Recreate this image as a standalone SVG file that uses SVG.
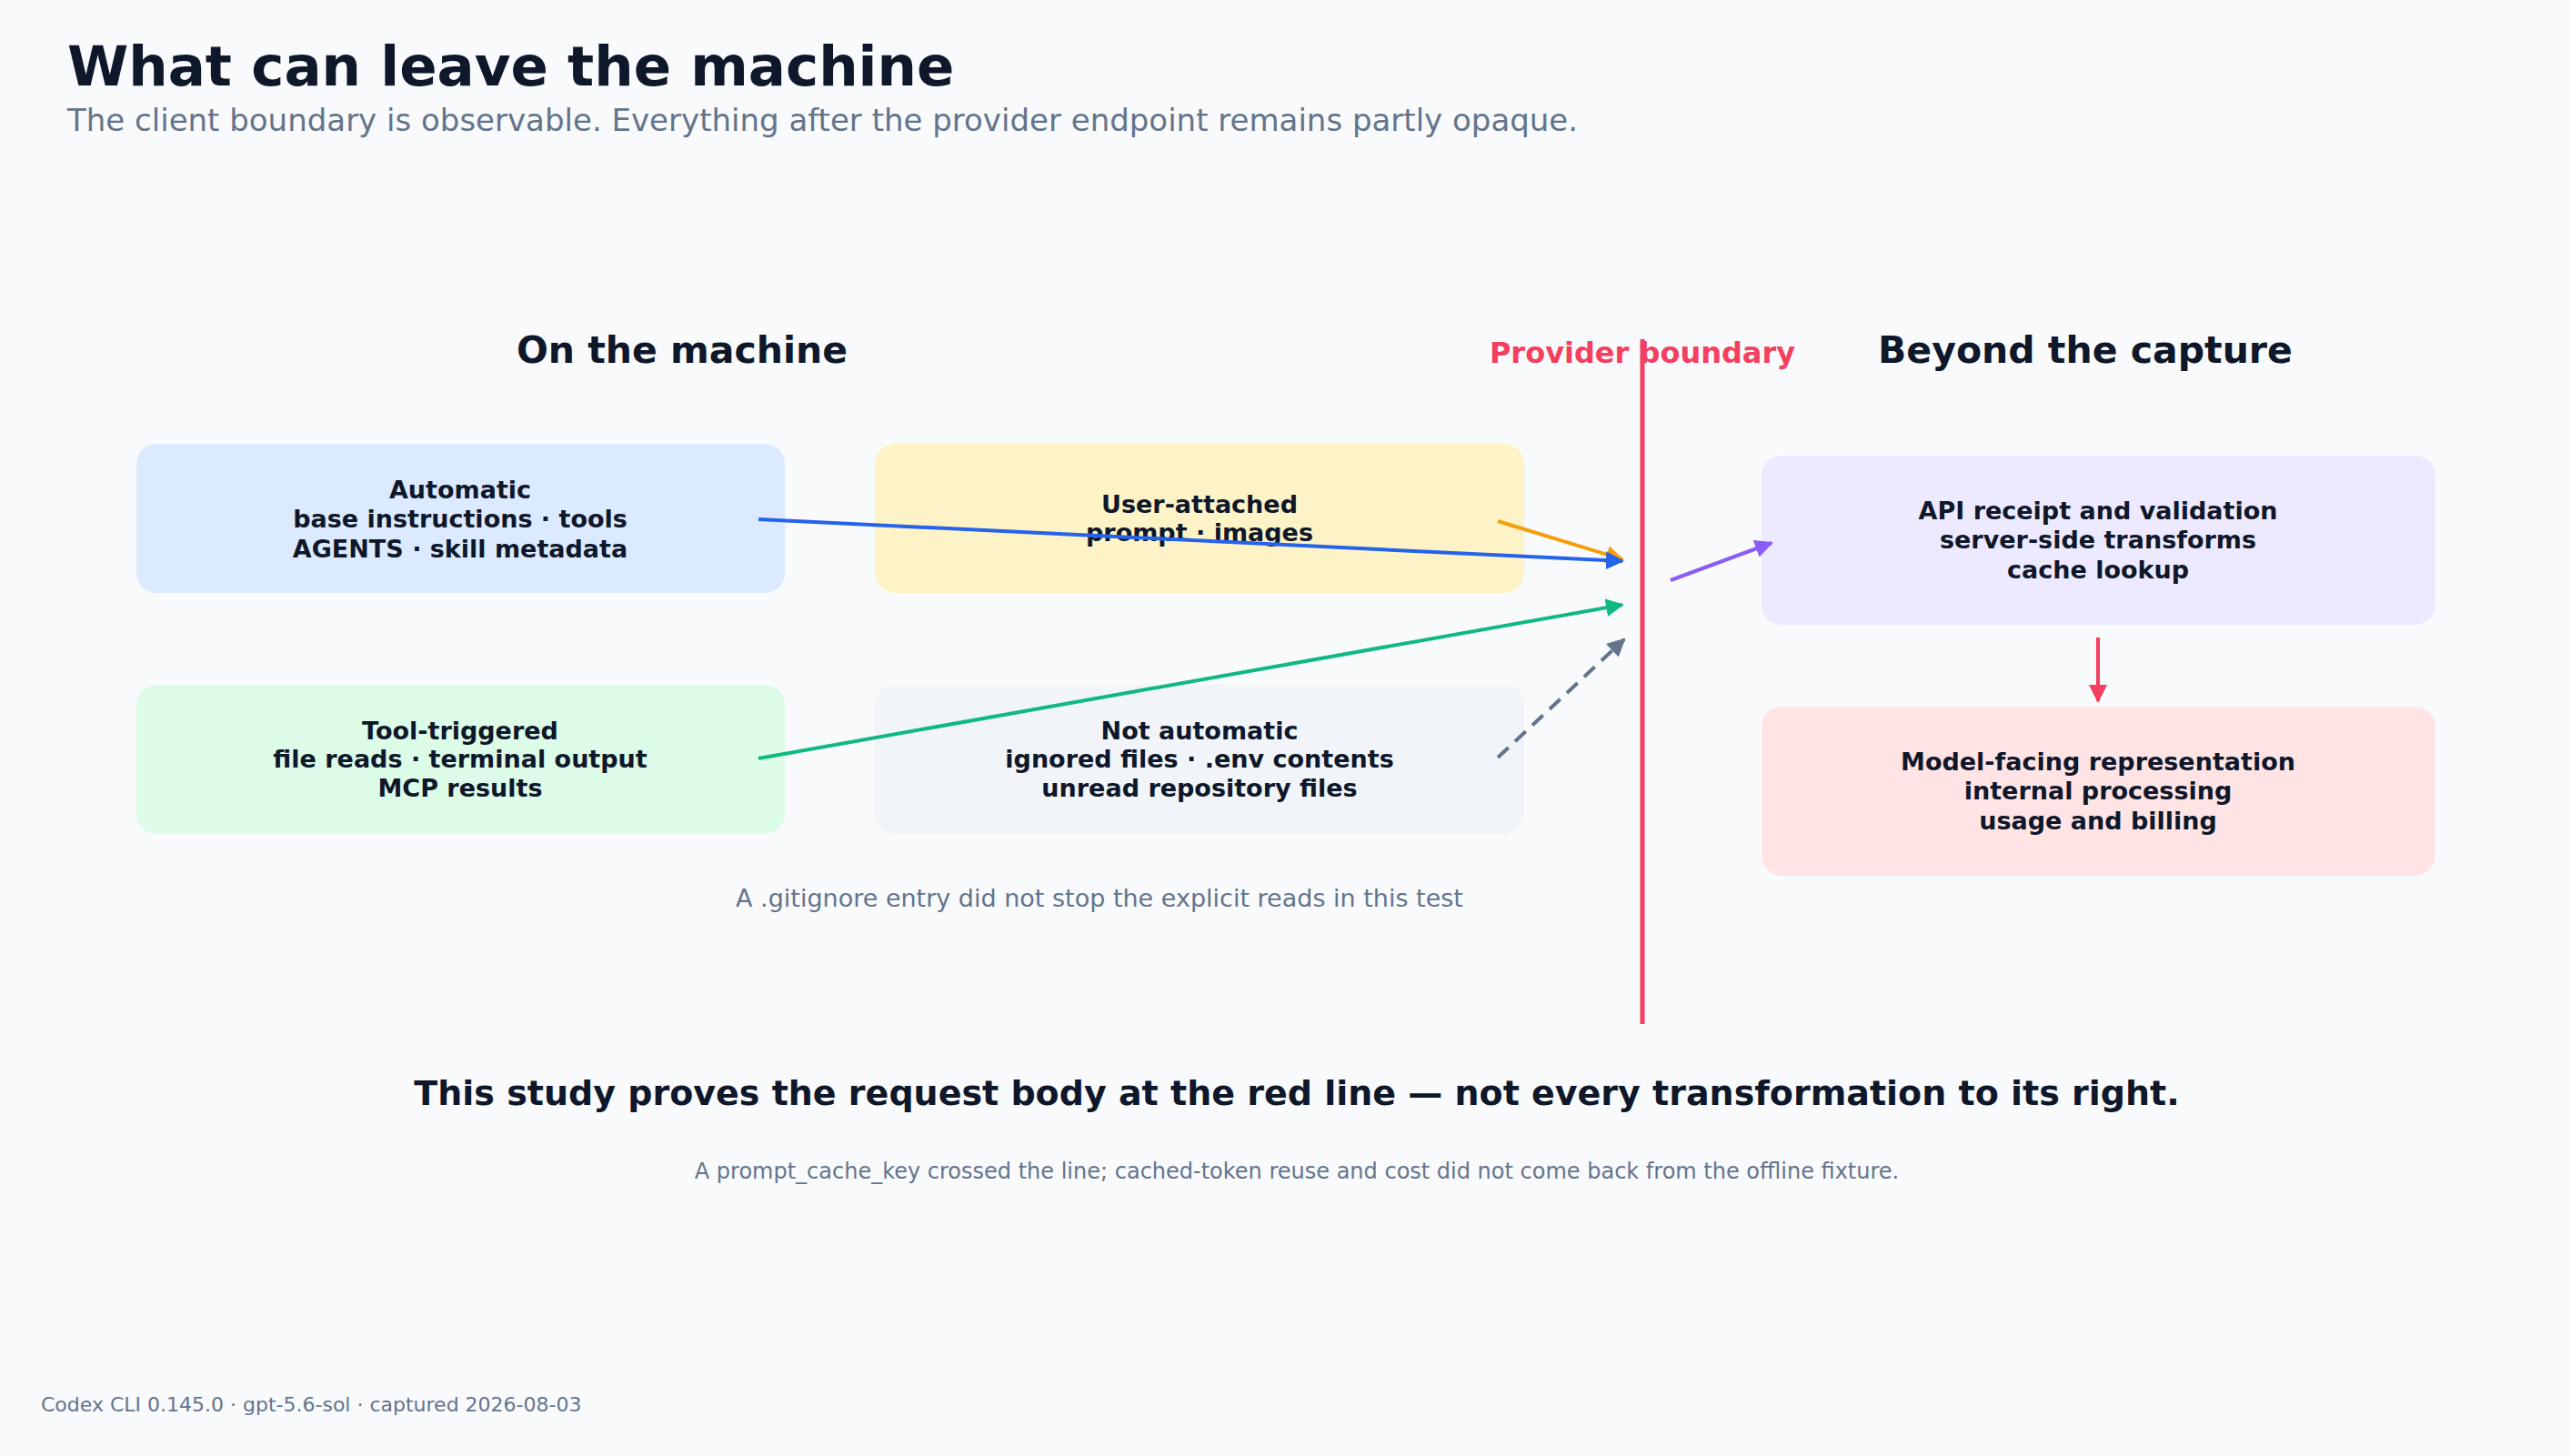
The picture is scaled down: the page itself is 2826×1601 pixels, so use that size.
<svg xmlns="http://www.w3.org/2000/svg" width="2826" height="1601" viewBox="0 0 2826 1601">
<style>
text{font-family:"DejaVu Sans","Noto Sans",sans-serif}
.h{font-size:41px;font-weight:bold;fill:#0f172a;text-anchor:middle}
.b{font-size:27px;font-weight:bold;fill:#0f172a;text-anchor:middle}
.g{fill:#64748b}
.c{fill:none;stroke-width:4}
</style>
<defs>
<marker id="m" viewBox="0 0 10 10" refX="9" refY="5" markerWidth="5" markerHeight="5" orient="auto"><path d="M0,0L10,5L0,10z" fill="context-stroke"/></marker>
</defs>
<rect width="2826" height="1601" fill="#f8fafc"/>
<text x="74" y="94" font-size="61" font-weight="bold" fill="#0f172a">What can leave the machine</text>
<text x="74" y="144" font-size="34" class="g">The client boundary is observable. Everything after the provider endpoint remains partly opaque.</text>
<text x="750" y="399" class="h">On the machine</text>
<text x="2293" y="399" class="h">Beyond the capture</text>
<line x1="1806" y1="373" x2="1806" y2="1126" stroke="#f43f5e" stroke-width="5"/>
<text x="1806" y="399" font-size="32" font-weight="bold" fill="#f43f5e" text-anchor="middle">Provider boundary</text>
<g id="n1"><rect x="150" y="488" width="713" height="164" rx="22" fill="#dbeafe"/><text class="b"><tspan x="506" y="548">Automatic</tspan><tspan x="506" y="580">base instructions · tools</tspan><tspan x="506" y="613">AGENTS · skill metadata</tspan></text></g>
<g id="n2"><rect x="962" y="488" width="714" height="164" rx="22" fill="#fef3c7"/><text class="b"><tspan x="1319" y="564">User-attached</tspan><tspan x="1319" y="595">prompt · images</tspan></text></g>
<g id="n3"><rect x="150" y="753" width="713" height="164" rx="22" fill="#dcfce7"/><text class="b"><tspan x="506" y="813">Tool-triggered</tspan><tspan x="506" y="844">file reads · terminal output</tspan><tspan x="506" y="876">MCP results</tspan></text></g>
<g id="n4"><rect x="962" y="753" width="714" height="164" rx="22" fill="#f1f5f9"/><text class="b"><tspan x="1319" y="813">Not automatic</tspan><tspan x="1319" y="844">ignored files · .env contents</tspan><tspan x="1319" y="876">unread repository files</tspan></text></g>
<g id="n5"><rect x="1937" y="501" width="741" height="186" rx="22" fill="#ede9fe"/><text class="b"><tspan x="2307" y="571">API receipt and validation</tspan><tspan x="2307" y="603">server-side transforms</tspan><tspan x="2307" y="636">cache lookup</tspan></text></g>
<g id="n6"><rect x="1937" y="777" width="741" height="186" rx="22" fill="#ffe4e6"/><text class="b"><tspan x="2307" y="847">Model-facing representation</tspan><tspan x="2307" y="879">internal processing</tspan><tspan x="2307" y="912">usage and billing</tspan></text></g>
<g id="connectors">
<line class="c" x1="1647" y1="573" x2="1784" y2="615" stroke="#f59e0b" marker-end="url(#m)"/>
<line class="c" x1="834" y1="571" x2="1784" y2="617" stroke="#2563eb" marker-end="url(#m)"/>
<line class="c" x1="834" y1="834" x2="1784" y2="665" stroke="#10b981" marker-end="url(#m)"/>
<line class="c" x1="1647" y1="833" x2="1786" y2="703" stroke="#64748b" stroke-dasharray="16,10" marker-end="url(#m)"/>
<line class="c" x1="1837" y1="638" x2="1948" y2="597" stroke="#8b5cf6" marker-end="url(#m)"/>
<line class="c" x1="2307" y1="701" x2="2307" y2="771" stroke="#f43f5e" marker-end="url(#m)"/>
</g>
<text x="1209" y="997" font-size="27" class="g" text-anchor="middle">A .gitignore entry did not stop the explicit reads in this test</text>
<text x="1426" y="1215" font-size="38" font-weight="bold" fill="#0f172a" text-anchor="middle">This study proves the request body at the red line — not every transformation to its right.</text>
<text x="1426" y="1296" font-size="24" class="g" text-anchor="middle">A prompt_cache_key crossed the line; cached-token reuse and cost did not come back from the offline fixture.</text>
<text x="45" y="1552" font-size="22" class="g">Codex CLI 0.145.0 · gpt-5.6-sol · captured 2026-08-03</text>
</svg>
